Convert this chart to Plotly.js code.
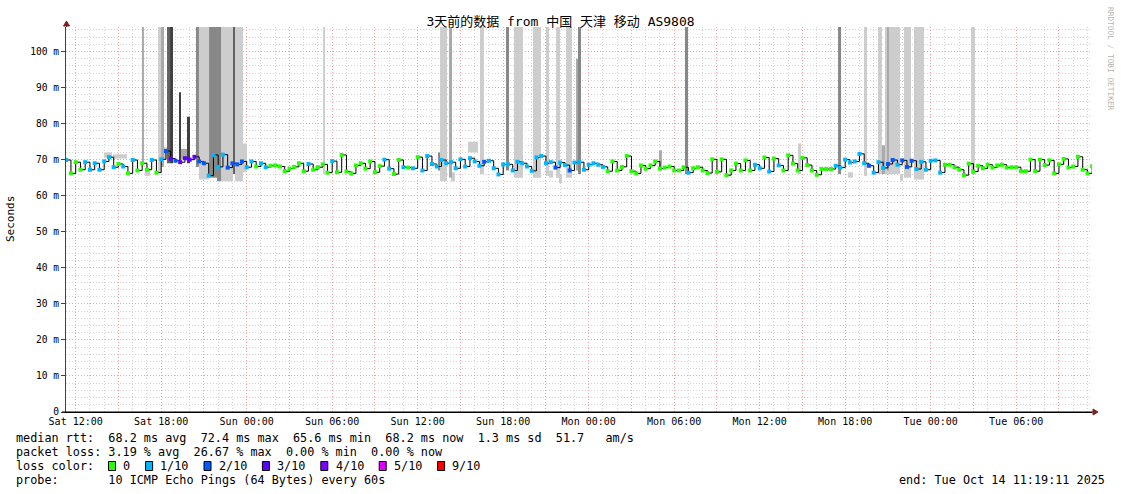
<!DOCTYPE html>
<html><head><meta charset="utf-8">
<script src="https://cdn.plot.ly/plotly-3.0.1.min.js"></script>
<style>html,body{margin:0;padding:0;background:#fff}#chart{width:1121px;height:494px}</style>
</head><body><div id="chart"></div>
<script>
// ---------------- data ----------------
const windowStart = Date.UTC(2025, 9, 11, 11, 19, 11);
const windowEnd   = Date.UTC(2025, 9, 14, 11, 19, 11);
const firstSample = Date.UTC(2025, 9, 11, 11, 20, 0);
const sampleStepMin = 20;

// median rtt per 20-minute sample (ms)
const medianMs = [
 69.9,66.2,69.3,67.2,69.3,67.2,69.0,67.2,69.5,70.7,
 67.9,68.8,68.1,66.2,69.9,67.0,69.0,67.2,69.9,66.4,
 70.1,72.4,70.3,69.7,69.3,70.4,70.0,70.8,69.5,69.0,
 65.6,71.3,68.0,71.4,67.8,69.0,68.7,69.5,67.9,69.5,
 68.1,69.0,67.9,68.3,68.4,68.1,66.8,67.5,68.0,69.0,
 66.8,68.8,67.2,67.9,68.7,66.4,69.6,66.5,71.3,66.7,
 66.2,68.4,69.0,67.5,69.5,66.5,68.2,70.0,67.5,66.0,
 69.9,67.9,67.8,67.6,70.7,67.0,71.0,68.8,68.1,69.9,
 69.0,69.3,67.6,70.1,68.1,70.4,69.5,68.3,69.4,69.7,
 67.6,65.9,68.7,68.7,67.0,69.4,69.0,68.1,66.9,70.6,
 71.0,69.0,69.3,67.8,69.2,68.5,67.0,69.2,69.3,67.2,
 68.6,69.0,68.6,68.0,66.8,69.5,67.0,68.0,71.0,66.8,
 66.2,68.4,67.5,68.4,69.5,67.5,67.8,68.1,67.0,67.0,
 67.9,66.4,67.6,67.9,67.0,66.3,70.1,66.6,70.1,65.7,
 67.0,68.9,67.0,69.8,67.0,68.6,67.6,70.6,66.7,70.3,
 68.4,67.0,71.2,68.9,67.0,70.5,68.5,67.0,65.8,67.4,
 67.4,67.4,68.3,67.8,70.0,69.2,69.5,71.6,69.0,68.3,
 66.4,69.3,67.7,68.8,69.9,68.6,69.8,68.0,69.7,67.4,
 69.4,67.2,69.7,69.8,66.4,68.6,68.6,67.9,67.2,65.7,
 68.9,66.7,68.3,67.6,68.6,67.8,68.4,68.6,67.8,67.9,
 67.9,66.8,66.8,70.0,66.8,70.0,68.5,69.8,66.2,68.7,
 70.2,67.8,68.1,70.8,67.2,66.2,68.2
];
// lost pings out of 10 per sample
const lossTenths = [
 1,0,0,0,1,1,1,1,1,1,
 1,0,1,0,1,0,0,0,1,0,
 1,2,3,2,3,3,3,3,2,2,
 1,1,1,1,2,2,2,2,1,1,
 0,1,1,0,0,0,0,0,0,0,
 0,1,0,0,0,0,1,0,0,0,
 0,0,0,0,0,0,0,1,1,0,
 0,1,0,1,0,1,1,1,1,1,
 1,1,1,1,1,1,1,1,2,1,
 1,1,1,1,1,1,1,1,1,1,
 1,1,1,2,1,1,2,1,1,1,
 1,1,1,1,0,0,0,0,0,0,
 0,0,0,0,0,0,0,0,0,0,
 0,1,0,0,0,0,0,0,0,0,
 0,0,0,0,0,1,1,0,1,0,
 1,0,0,0,0,0,0,0,0,0,
 0,0,1,1,1,1,1,1,1,2,
 1,1,1,2,2,1,2,2,2,1,
 1,1,1,1,1,0,0,0,0,0,
 0,0,0,0,0,0,0,0,0,0,
 0,0,0,0,0,0,0,0,0,0,
 0,0,0,0,0,0,0
];

// smoke (ping spread) patches: hours after window start, rtt range in ms, density level 1..5
const smokeFromH = [2.67,3.30,5.33,5.54,6.46,6.67,6.88,7.09,7.30,7.93,8.07,8.49,9.12,9.33,10.04,10.60,10.88,11.72,11.86,12.42,18.04,
 26.11,26.25,26.88,27.02,28.21,29.05,30.88,31.44,32.77,33.68,33.90,34.39,34.60,35.09,35.79,35.93,
 41.61,43.44,51.37,54.18,54.88,56.00,56.98,57.26,57.47,57.61,58.53,58.81,59.51,63.51];
const smokeToH   = [3.23,4.28,5.47,5.90,6.67,6.88,7.09,7.30,7.51,8.07,8.49,8.70,9.33,10.04,10.60,10.88,11.72,11.86,12.42,12.70,18.18,
 26.25,26.74,27.09,27.30,28.91,29.33,31.09,32.07,33.33,33.90,34.18,34.67,34.81,35.51,35.93,36.14,
 41.82,43.65,51.58,54.39,55.23,56.21,57.26,57.47,58.53,57.75,58.74,59.30,60.21,63.79];
const smokeLow   = [70.5,70.3,69,65.5,66.5,68,70,69,69,69.5,70,69,68,64.5,65,64,64,66,64,66.5,66,
 67,64,65,64,72,66,67,65,65,65.5,65,65,63.5,65,67,66,
 68,66,66,66,65,65.5,66,66,66,67,64,65,64.5,66];
const smokeHigh  = [72,71.5,107,67,107,107,73.5,107,107,88.7,73,81.9,107,107,107,107,107,107,107,74.5,107,
 72,107,107,66.5,75,107,107,107,107,107,67,107,66,107,98,107,
 72.6,107,74.5,107,66.5,107,107,74,107,107,66,107,107,107];
const smokeLevel = [1,1,2,1,1,2,1,4,5,5,2,5,3,1,3,3,1,4,1,1,1,
 3,1,2,1,1,1,3,1,1,1,1,1,1,1,2,3,
 2,3,1,3,1,1,1,2,1,2,1,1,1,1];

const firstLabelTime = Date.UTC(2025, 9, 11, 12, 0, 0);
const tickLabels = ['Sat 12:00','Sat 18:00','Sun 00:00','Sun 06:00','Sun 12:00','Sun 18:00',
                    'Mon 00:00','Mon 06:00','Mon 12:00','Mon 18:00','Tue 00:00','Tue 06:00'];
const yTickValues = [0,10,20,30,40,50,60,70,80,90,100];
const yTickLabels = ['0','10 m','20 m','30 m','40 m','50 m','60 m','70 m','80 m','90 m','100 m'];

const lossLevels = [0,1,2,3,4,5,9];
const lossLabels = ['0','1/10','2/10','3/10','4/10','5/10','9/10'];
const lossColors = ['#26ff00','#00b8ff','#0059ff','#5e00ff','#7e00ff','#dd00ff','#ff0000'];
const smokeShades = ['#cdcdcd','#a9a9a9','#878787','#626262','#404040'];

const titleText = '3天前的数据 from 中国 天津 移动 AS9808';
const statLines = [
 'median rtt:  68.2 ms avg  72.4 ms max  65.6 ms min  68.2 ms now  1.3 ms sd  51.7   am/s',
 'packet loss: 3.19 % avg  26.67 % max  0.00 % min  0.00 % now'
];
const probeLine = 'probe:       10 ICMP Echo Pings (64 Bytes) every 60s';
const endLine = 'end: Tue Oct 14 11:19:11 2025';

// ---------------- layout helpers ----------------
const MONO = 'DejaVu Sans Mono, Noto Sans CJK SC, monospace';
const L = 66, R = 1092, T = 27, B = 412;
const px = p => (p - L) / (R - L);
const py = p => (B - p) / (B - T);
const nb = s => s.replace(/ /g, '\u00a0');
const HOUR = 3600000;

// ---------------- traces ----------------
const traces = [];
for (let lv = 1; lv <= 5; lv++) {
  const xs = [], ws = [], bs = [], ys = [];
  smokeLevel.forEach((l, i) => {
    if (l !== lv) return;
    xs.push(windowStart + (smokeFromH[i] + smokeToH[i]) / 2 * HOUR);
    ws.push((smokeToH[i] - smokeFromH[i]) * HOUR);
    bs.push(smokeLow[i]);
    ys.push(smokeHigh[i] - smokeLow[i]);
  });
  traces.push({type:'bar', x:xs, y:ys, base:bs, width:ws,
    marker:{color:smokeShades[lv-1], line:{width:0}}, showlegend:false, hoverinfo:'skip'});
}
const sampleX = medianMs.map((_, i) => firstSample + i * sampleStepMin * 60000);
traces.push({type:'scatter', mode:'lines', x:sampleX, y:medianMs,
  line:{color:'#000', width:1, shape:'hv'}, showlegend:false, hoverinfo:'skip'});
traces.push({type:'scatter', mode:'markers', x:sampleX, y:medianMs,
  marker:{symbol:'square', size:4, line:{width:0},
    color: lossTenths.map(v => lossColors[lossLevels.indexOf(v)])},
  showlegend:false, hoverinfo:'skip'});

// ticks: labels every 6h, major grid every 3h, minor grid every hour
const tickVals = [], tickText = [], minorVals = [];
for (let k = 0; k < tickLabels.length * 2; k++) {
  tickVals.push(firstLabelTime + k * 3 * HOUR);
  tickText.push(k % 2 === 0 ? tickLabels[k / 2] : '');
}
for (let h = 0; h < 72; h++) if (h % 3 !== 0) minorVals.push(firstLabelTime + h * HOUR);

// ---------------- annotations & shapes ----------------
const ann = [];
const shapes = [];
const TXT = {family:MONO, size:11.8, color:'#000'};
ann.push({xref:'paper', yref:'paper', x:px(10), y:py(219), xanchor:'center', yanchor:'middle', text:'Seconds', textangle:-90,
  showarrow:false, font:{family:MONO, size:11, color:'#000'}});
statLines.forEach((s, k) => ann.push({xref:'paper', yref:'paper', x:px(14), y:py(438 + 14*k),
  xanchor:'left', yanchor:'middle', text:nb(s), showarrow:false, font:TXT}));
ann.push({xref:'paper', yref:'paper', x:px(14), y:py(466), xanchor:'left', yanchor:'middle',
  text:nb('loss color:'), showarrow:false, font:TXT});
let bx = 108.5;
lossLabels.forEach((lab, k) => {
  shapes.push({type:'rect', xref:'paper', yref:'paper', x0:px(bx), x1:px(bx+7), y0:py(461.5), y1:py(470.5),
    fillcolor:lossColors[k], line:{color:'#000', width:1}});
  const tx = bx + 14.7;
  ann.push({xref:'paper', yref:'paper', x:px(tx-2), y:py(466), xanchor:'left', yanchor:'middle',
    text:lab, showarrow:false, font:TXT});
  bx = tx + lab.length * 7.1 + 15.3;
});
ann.push({xref:'paper', yref:'paper', x:px(14), y:py(480), xanchor:'left', yanchor:'middle',
  text:nb(probeLine), showarrow:false, font:TXT});
ann.push({xref:'paper', yref:'paper', x:px(1107), y:py(480), xanchor:'right', yanchor:'middle',
  text:nb(endLine), showarrow:false, font:TXT});
ann.push({xref:'paper', yref:'paper', x:px(1111), y:py(59), xanchor:'center', yanchor:'middle',
  text:nb('RRDTOOL / TOBI OETIKER'), textangle:90, showarrow:false, font:{family:MONO, size:7.8, color:'#b4b4b4'}});

// axis extensions and arrows
shapes.push({type:'line', xref:'paper', yref:'paper', x0:px(66.5), x1:px(66.5), y0:py(T), y1:py(24), line:{color:'#444', width:1}});
shapes.push({type:'line', xref:'paper', yref:'paper', x0:px(62), x1:px(1094), y0:py(412), y1:py(412), line:{color:'#000', width:1}});
shapes.push({type:'path', xref:'paper', yref:'paper',
  path:`M ${px(1093)} ${py(409)} L ${px(1098)} ${py(412)} L ${px(1093)} ${py(415)} Z`,
  fillcolor:'#7f1f1f', line:{color:'#7f1f1f', width:1}});
shapes.push({type:'path', xref:'paper', yref:'paper',
  path:`M ${px(63.5)} ${py(26)} L ${px(66.5)} ${py(21)} L ${px(69.5)} ${py(26)} Z`,
  fillcolor:'#7f1f1f', line:{color:'#7f1f1f', width:1}});

const MAJ = '#f3a0a0', MIN = '#d4d4d4', DASH = '1px,2px';
const layout = {
  width:1121, height:494, margin:{l:L, r:1121-R, t:T, b:494-B},
  paper_bgcolor:'#fff', plot_bgcolor:'#fff', barmode:'overlay', hovermode:false, showlegend:false,
  title:{text:titleText, font:{family:MONO, size:13, color:'#000'}, xref:'container', x:0.5,
    yref:'container', y:1-21/494, yanchor:'middle', xanchor:'center'},
  xaxis:{type:'date', range:[windowStart, windowEnd], tickmode:'array', tickvals:tickVals, ticktext:tickText,
    showgrid:true, gridcolor:MAJ, griddash:DASH, gridwidth:1,
    minor:{tickmode:'array', tickvals:minorVals, showgrid:true, gridcolor:MIN, griddash:DASH, gridwidth:1, ticks:''},
    showline:true, linecolor:'#000', linewidth:1, ticks:'', zeroline:false, fixedrange:true,
    tickfont:{family:MONO, size:10, color:'#000'}},
  yaxis:{range:[0,106.8], tickmode:'array', tickvals:yTickValues, ticktext:yTickLabels,
    showgrid:true, gridcolor:MAJ, griddash:DASH, gridwidth:1,
    minor:{tickmode:'linear', tick0:0, dtick:2, showgrid:true, gridcolor:MIN, griddash:DASH, gridwidth:1, ticks:''},
    showline:true, linecolor:'#444', linewidth:1, ticks:'outside', ticklen:4, tickcolor:'#444',
    zeroline:false, fixedrange:true, tickfont:{family:MONO, size:9.6, color:'#000'}},
  annotations:ann, shapes:shapes
};
Plotly.newPlot('chart', traces, layout, {displayModeBar:false, staticPlot:true});
</script></body></html>
